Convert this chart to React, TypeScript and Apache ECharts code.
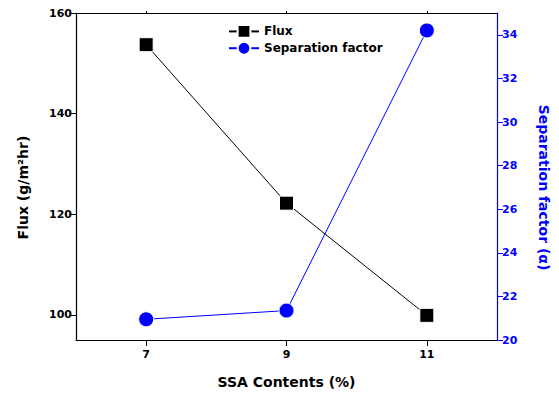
import React, { useEffect, useRef } from "react";
import * as echarts from "echarts";

const contents = [7, 9, 11];
const fluxValues = [153.7, 122.2, 99.9];
const separationValues = [20.95, 21.35, 34.2];
const xTicks = [7, 9, 11];
const fluxTicks = [100, 120, 140, 160];
const sepTicks = [20, 22, 24, 26, 28, 30, 32, 34];

const FONT = "DejaVu Sans";
const BLUE = "#0000ff";

export default function App() {
  const ref = useRef<HTMLDivElement>(null);
  useEffect(() => {
    if (!ref.current) return;
    const chart = echarts.init(ref.current, undefined, { renderer: "svg" });
    chart.setOption({
      animation: false,
      backgroundColor: "#fff",
      textStyle: { fontFamily: FONT },
      grid: { left: 76, right: 58, top: 13, bottom: 54 },
      legend: {
        orient: "vertical",
        left: 223,
        top: 19,
        itemWidth: 30,
        itemHeight: 16,
        itemGap: 2,
        textStyle: { fontFamily: FONT, fontWeight: "bold", fontSize: 12, color: "#000" },
        data: ["Flux", "Separation factor"],
      },
      xAxis: [
        {
          type: "value",
          min: 6,
          max: 12,
          position: "bottom",
          name: "SSA Contents (%)",
          nameLocation: "middle",
          nameGap: 35,
          nameTextStyle: { fontFamily: FONT, fontWeight: "bold", fontSize: 14, color: "#000" },
          axisLine: { show: true, lineStyle: { color: "#000", width: 1.2 } },
          axisTick: { show: true, length: 6, customValues: xTicks, lineStyle: { color: "#000" } },
          axisLabel: { customValues: xTicks, fontFamily: FONT, fontWeight: "bold", fontSize: 11, color: "#000", margin: 9 },
          splitLine: { show: false },
        },
        {
          type: "value",
          min: 6,
          max: 12,
          position: "top",
          axisLine: { show: true, lineStyle: { color: "#000", width: 1.2 } },
          axisTick: { show: true, length: 2, customValues: xTicks, lineStyle: { color: "#000" } },
          axisLabel: { show: false },
          splitLine: { show: false },
        },
      ],
      yAxis: [
        {
          type: "value",
          min: 95,
          max: 160,
          position: "left",
          name: "Flux (g/m²hr)",
          nameLocation: "middle",
          nameGap: 46,
          nameTextStyle: { fontFamily: FONT, fontWeight: "bold", fontSize: 14, color: "#000", padding: [0, 22, 0, 0] },
          axisLine: { show: true, lineStyle: { color: "#000", width: 1.2 } },
          axisTick: { show: true, length: 7, customValues: fluxTicks, lineStyle: { color: "#000" } },
          axisLabel: { customValues: fluxTicks, fontFamily: FONT, fontWeight: "bold", fontSize: 11, color: "#000", margin: 4 },
          splitLine: { show: false },
        },
        {
          type: "value",
          min: 20,
          max: 35,
          position: "right",
          name: "Separation factor (α)",
          nameLocation: "middle",
          nameGap: 40,
          nameRotate: -90,
          nameTextStyle: { fontFamily: FONT, fontWeight: "bold", fontSize: 14, color: BLUE, padding: [0, 0, 0, 22] },
          axisLine: { show: true, lineStyle: { color: BLUE, width: 1.2 } },
          axisTick: { show: true, length: 6, customValues: sepTicks, lineStyle: { color: BLUE } },
          axisLabel: { customValues: sepTicks, fontFamily: FONT, fontWeight: "bold", fontSize: 11, color: BLUE, margin: 5 },
          splitLine: { show: false },
        },
      ],
      series: [
        {
          name: "Flux",
          type: "line",
          xAxisIndex: 0,
          yAxisIndex: 0,
          data: contents.map((c, i) => [c, fluxValues[i]]),
          symbol: "rect",
          symbolSize: 14,
          lineStyle: { color: "#000", width: 1 },
          itemStyle: { color: "#000", borderColor: "#fff", borderWidth: 1 },
        },
        {
          name: "Separation factor",
          type: "line",
          xAxisIndex: 0,
          yAxisIndex: 1,
          data: contents.map((c, i) => [c, separationValues[i]]),
          symbol: "circle",
          symbolSize: 15,
          lineStyle: { color: BLUE, width: 1 },
          itemStyle: { color: BLUE, borderColor: "#fff", borderWidth: 1 },
        },
      ],
    });
    return () => chart.dispose();
  }, []);
  return <div ref={ref} style={{ width: 559, height: 394, position: "absolute", left: 0, top: 0 }} />;
}
